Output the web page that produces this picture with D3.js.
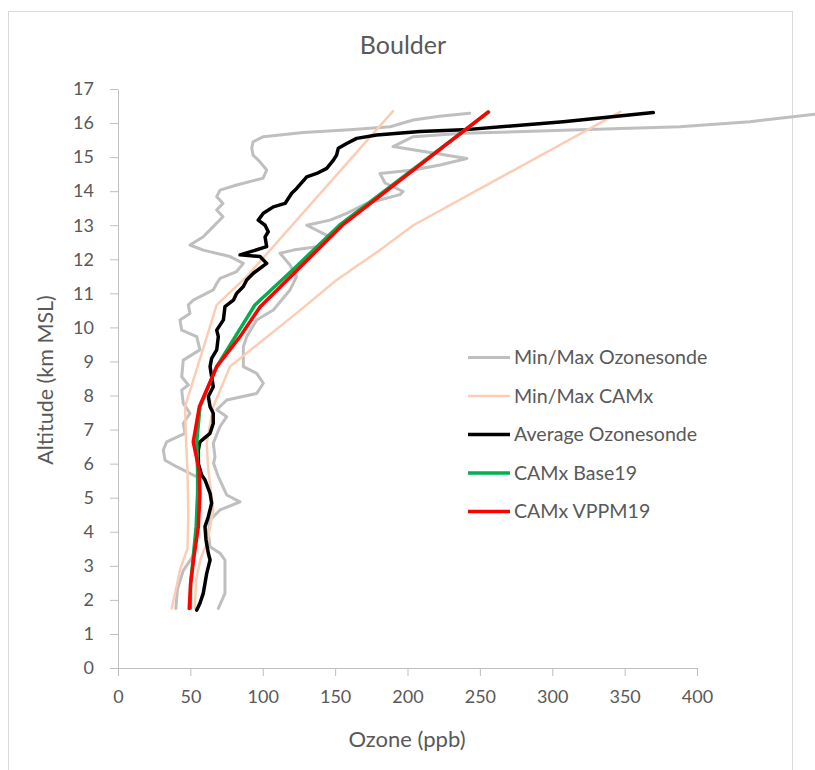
<!DOCTYPE html>
<html>
<head>
<meta charset="utf-8">
<script src="https://cdn.jsdelivr.net/npm/d3@7"></script>
<style>
  html, body { margin: 0; padding: 0; background: #fff; }
  svg { display: block; }
  text { font-family: Lato, "Open Sans", sans-serif; fill: #595959; }
</style>
</head>
<body>
<svg id="chart" width="815" height="770"></svg>
<script>
// ---- Data: [ozone ppb, altitude km MSL] ----
const minOzonesonde = [[40,1.75],[41,2.3],[45,2.85],[52,3.3],[54,4.0],[55,5.0],[55,5.6],[40.5,5.91],[32.5,6.1],[31.3,6.4],[33.6,6.64],[46.3,6.89],[45.1,7.18],[49.7,7.48],[45.1,7.77],[44,8.16],[48.6,8.31],[44,8.55],[45.1,9.04],[56.6,9.34],[54.4,9.73],[44,9.92],[42.8,10.22],[49.7,10.41],[48.6,10.66],[52,10.8],[65.8,11.1],[68.2,11.29],[70.5,11.44],[82,11.64],[86.6,11.88],[77.4,12.08],[58.9,12.27],[49.7,12.42],[58.9,12.66],[65.8,12.96],[72.5,13.25],[68.2,13.45],[72.5,13.64],[68.2,13.84],[70.5,14.03],[82,14.18],[100.2,14.38],[102.7,14.62],[98.1,14.86],[93.3,15.06],[92.4,15.26],[93.3,15.45],[100.4,15.6],[128,15.72],[160,15.8],[188,15.89],[204,16.09],[222,16.2],[243,16.29]];
const maxOzonesonde = [[69.3,1.75],[73.9,2.19],[73.9,3.17],[70.5,3.37],[63.6,3.56],[62.4,3.95],[63.6,4.35],[70.5,4.64],[84.3,4.88],[75.1,5.08],[69.3,5.62],[66,6.01],[67,6.2],[65.8,6.6],[70.5,7.09],[75.1,7.38],[68.2,7.58],[75.1,7.87],[95.8,8.06],[100.4,8.36],[95.8,8.65],[86.6,8.85],[86.6,9.43],[88.9,9.73],[95.8,10.22],[107.3,10.51],[118.8,11.1],[123.4,11.49],[118.8,11.83],[111.9,12.18],[121.1,12.27],[137.3,12.37],[146.5,12.66],[130.4,13.0],[146.5,13.15],[158,13.35],[171.8,13.64],[194.8,13.9],[197,13.99],[184.5,14.24],[181,14.52],[204,14.62],[222.5,14.77],[241,14.96],[190,15.31],[204,15.6],[238.5,15.7],[319,15.8],[388,15.89],[436.6,16.04],[481.5,16.26],[500,16.32]];
const minCAMx = [[37.1,1.75],[39.4,2.19],[42.8,2.88],[48,3.5],[48.6,4.5],[48,5.8],[47,6.7],[46.3,7.67],[68.2,10.66],[88.9,11.49],[190,16.35]];
const maxCAMx = [[53,1.75],[54,2.6],[57,3.2],[61.3,3.66],[63.6,4.15],[65.8,4.64],[62.4,5.8],[61.3,6.6],[65.8,7.67],[77.4,8.85],[125.7,10.5],[151,11.39],[181,12.27],[204,13.0],[347,16.33]];
const avgOzonesonde = [[54.4,1.7],[56.6,1.9],[58.9,2.19],[61.3,2.78],[63.6,3.17],[62.4,3.37],[60.8,3.76],[60.1,4.15],[62.4,4.44],[64.7,4.84],[63.6,5.13],[60.1,5.52],[57.8,5.67],[55.5,6.0],[55.5,6.4],[56.6,6.64],[63.6,6.89],[65.8,7.18],[65.8,7.48],[63.6,7.67],[62.4,7.97],[65.8,8.26],[64.7,8.55],[63.6,8.85],[64.7,9.09],[68.2,9.34],[69.3,9.73],[68.2,9.92],[72.8,10.22],[73.9,10.61],[79.7,10.8],[82,11.0],[86.6,11.2],[88.9,11.39],[93.5,11.59],[102.7,11.88],[98.1,12.08],[84.3,12.13],[102.7,12.37],[101.6,12.66],[103.8,12.81],[101.6,13.0],[96.9,13.15],[100.4,13.35],[107.3,13.54],[115.4,13.64],[120,13.94],[123.4,14.08],[130.4,14.42],[137.3,14.52],[144.2,14.67],[148.8,14.91],[151,15.06],[152.2,15.26],[158,15.4],[164.9,15.55],[178.7,15.65],[208.6,15.75],[238.6,15.8],[307.6,16.04],[369.8,16.31]];
const camxBase19 = [[50,1.76],[50.2,2.49],[52,3.27],[54,4.15],[55,5.13],[55,5.81],[54.4,6.64],[56.6,7.67],[68.2,8.85],[81,9.73],[94.6,10.66],[121,11.7],[153,13.0],[256,16.32]];
const camxVPPM19 = [[49.2,1.75],[50.2,2.49],[52.5,3.27],[55.5,4.15],[56.6,5.13],[56,5.81],[52,6.64],[56.2,7.67],[68.2,8.85],[84.3,9.73],[98.1,10.6],[155,13.0],[255.6,16.32]];

const xTicks = [0,50,100,150,200,250,300,350,400];
const yTicks = [0,1,2,3,4,5,6,7,8,9,10,11,12,13,14,15,16,17];
const legendLabels = ["Min/Max Ozonesonde","Min/Max CAMx","Average Ozonesonde","CAMx Base19","CAMx VPPM19"];

// ---- Drawing ----
const svg = d3.select("#chart");
const C = { gray:"#bfbfbf", peach:"#fbcdb5", black:"#000000", green:"#00b050", red:"#ff0000" };

svg.append("rect").attr("x",8.5).attr("y",11.5).attr("width",784).attr("height",800)
  .attr("fill","#fff").attr("stroke","#d9d9d9").attr("stroke-width",1);

const x = d3.scaleLinear().domain([0,400]).range([118,697]);
const y = d3.scaleLinear().domain([0,17]).range([668,89]);

svg.append("text").attr("x",403).attr("y",54).attr("text-anchor","middle")
  .style("font-size","25px").text("Boulder");

const xAxis = svg.append("g").attr("transform","translate(0,668)")
  .call(d3.axisBottom(x).tickValues(xTicks).tickSize(8).tickSizeOuter(0).tickPadding(14));
const yAxis = svg.append("g").attr("transform","translate(118,0)")
  .call(d3.axisLeft(y).tickValues(yTicks).tickSize(8).tickSizeOuter(0).tickPadding(16));
[xAxis,yAxis].forEach(g=>{
  g.selectAll("path,line").attr("stroke","#bfbfbf").attr("stroke-width",1);
  g.selectAll("text").style("font-size","18px").style("font-family","Lato").attr("fill","#595959");
});

svg.append("text").attr("x",407).attr("y",747).attr("text-anchor","middle")
  .style("font-size","22px").text("Ozone (ppb)");
svg.append("text").attr("transform","translate(53,380) rotate(-90)").attr("text-anchor","middle")
  .style("font-size","21.5px").text("Altitude  (km MSL)");

const line = d3.line().x(d=>x(d[0])).y(d=>y(d[1]));
const series = [
  {data:minOzonesonde, color:C.gray, w:3},
  {data:maxOzonesonde, color:C.gray, w:3},
  {data:minCAMx, color:C.peach, w:2.5},
  {data:maxCAMx, color:C.peach, w:2.5},
  {data:avgOzonesonde, color:C.black, w:3.5},
  {data:camxBase19, color:C.green, w:3.5},
  {data:camxVPPM19, color:C.red, w:3.5}
];
svg.append("g").selectAll("path").data(series).join("path")
  .attr("d",d=>line(d.data)).attr("fill","none")
  .attr("stroke",d=>d.color).attr("stroke-width",d=>d.w)
  .attr("stroke-linejoin","round").attr("stroke-linecap","round");

const legendColors = [C.gray,C.peach,C.black,C.green,C.red];
const legendW = [3,2.5,3.5,3.5,3.5];
const lg = svg.append("g");
legendLabels.forEach((lab,i)=>{
  const yy = 357.5 + i*38.5;
  lg.append("line").attr("x1",468).attr("x2",510).attr("y1",yy).attr("y2",yy)
    .attr("stroke",legendColors[i]).attr("stroke-width",legendW[i]);
  lg.append("text").attr("x",514).attr("y",yy).attr("dy","0.35em")
    .style("font-size","19.6px").text(lab);
});
</script>
</body>
</html>
